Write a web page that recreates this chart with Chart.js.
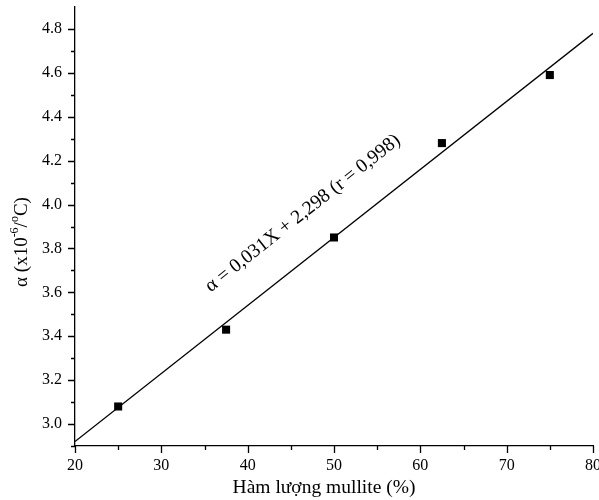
<!DOCTYPE html>
<html>
<head>
<meta charset="utf-8">
<script src="https://cdn.jsdelivr.net/npm/chart.js@4/dist/chart.umd.min.js"></script>
<style>
  html, body { margin: 0; padding: 0; background: #fff; }
  #wrap { width: 599px; height: 500px; }
</style>
</head>
<body>
<div id="wrap"><canvas id="myChart" width="599" height="500"></canvas></div>
<script>
// Số liệu
const mulliteX = [25, 37.5, 50, 62.5, 75];
const alphaY = [3.08, 3.43, 3.85, 4.28, 4.59];
const fitX = [20, 80];
const fitY = [2.92, 4.78];
const xTicks = [20, 30, 40, 50, 60, 70, 80];
const yTicks = [3.0, 3.2, 3.4, 3.6, 3.8, 4.0, 4.2, 4.4, 4.6, 4.8];
const equationText = 'α = 0,031X + 2,298 (r = 0,998)';
const xTitle = 'Hàm lượng mullite (%)';

const serif = '"Liberation Serif", "Times New Roman", serif';

// Vẽ vạch chia chính / phụ hướng ra ngoài, tiêu đề trục và phương trình
const axisPlugin = {
    id: 'axisTicks',
    afterDraw(chart) {
        const c = chart.ctx;
        const xs = chart.scales.x, ys = chart.scales.y;
        const area = chart.chartArea;
        c.save();
        c.strokeStyle = '#000';
        c.lineWidth = 1.3;
        c.beginPath();
        for (let v = xs.min; v <= xs.max + 1e-9; v += 5) {
            const px = Math.round(xs.getPixelForValue(v)) + 0.5;
            const len = (Math.round(v) % 10 === 0) ? 7 : 4;
            c.moveTo(px, area.bottom);
            c.lineTo(px, area.bottom + len);
        }
        for (let i = 0; i <= 19; i++) {
            const v = 2.9 + i * 0.1;
            if (v > ys.max + 1e-9) break;
            const py = Math.round(ys.getPixelForValue(v)) + 0.5;
            const major = Math.abs(Math.round(v * 10) % 2) === 0;
            const len = major ? 7 : 4;
            c.moveTo(area.left, py);
            c.lineTo(area.left - len, py);
        }
        c.stroke();
        c.fillStyle = '#000';

        // tiêu đề trục x
        c.font = '19.5px ' + serif;
        c.textAlign = 'center';
        c.textBaseline = 'middle';
        c.fillText(xTitle, 324, 488);

        // tiêu đề trục y với chỉ số trên
        c.save();
        c.translate(22, 242);
        c.rotate(-Math.PI / 2);
        const parts = [
            ['α (x10', 19, 0],
            ['-6', 12, -7],
            ['/', 19, 0],
            ['o', 12, -7],
            ['C)', 19, 0]
        ];
        let total = 0;
        parts.forEach(p => { c.font = p[1] + 'px ' + serif; total += c.measureText(p[0]).width; });
        let x = -total / 2;
        c.textAlign = 'left';
        parts.forEach(p => {
            c.font = p[1] + 'px ' + serif;
            c.fillText(p[0], x, p[2]);
            x += c.measureText(p[0]).width;
        });
        c.restore();

        // phương trình hồi quy, xoay theo đường thẳng
        const x0 = xs.getPixelForValue(fitX[0]), y0 = ys.getPixelForValue(fitY[0]);
        const x1 = xs.getPixelForValue(fitX[1]), y1 = ys.getPixelForValue(fitY[1]);
        const ang = Math.atan2(y1 - y0, x1 - x0);
        const cx = xs.getPixelForValue(46.4), cy = ys.getPixelForValue(3.96);
        c.translate(cx, cy);
        c.rotate(ang);
        c.font = '19.5px ' + serif;
        c.textAlign = 'center';
        c.fillText(equationText, 0, 0);
        c.restore();
    }
};

const ctx = document.getElementById('myChart').getContext('2d');

const myChart = new Chart(ctx, {
    type: 'scatter',
    data: {
        datasets: [
            {
                label: 'fit',
                type: 'line',
                data: fitX.map((x, i) => ({ x: x, y: fitY[i] })),
                borderColor: '#000',
                borderWidth: 1.3,
                pointRadius: 0,
                fill: false,
                order: 2
            },
            {
                label: 'data',
                data: mulliteX.map((x, i) => ({ x: x, y: alphaY[i] })),
                pointStyle: 'rect',
                pointRadius: 5.7,
                backgroundColor: '#000',
                borderColor: '#000',
                borderWidth: 0,
                order: 1
            }
        ]
    },
    options: {
        responsive: false,
        animation: false,
        layout: { padding: { top: 7, right: 6, left: 0, bottom: 0 } },
        plugins: {
            legend: { display: false },
            tooltip: { enabled: false }
        },
        scales: {
            x: {
                type: 'linear',
                min: 20,
                max: 80,
                afterBuildTicks: (s) => { s.ticks = xTicks.map(v => ({ value: v })); },
                afterFit: (s) => { s.height = 54; s.paddingLeft = 0; s.paddingRight = 0; },
                grid: { display: false },
                border: { display: true, color: '#000', width: 1.3 },
                ticks: {
                    color: '#000',
                    padding: 2,
                    maxRotation: 0,
                    font: { family: serif, size: 16 }
                },
                title: { display: false }
            },
            y: {
                type: 'linear',
                min: 2.9,
                max: 4.9,
                afterBuildTicks: (s) => { s.ticks = yTicks.map(v => ({ value: v })); },
                afterFit: (s) => { s.width = 75; s.paddingTop = 0; s.paddingBottom = 0; },
                grid: { display: false },
                border: { display: true, color: '#000', width: 1.3 },
                ticks: {
                    color: '#000',
                    padding: 5,
                    font: { family: serif, size: 16 },
                    callback: (v) => v.toFixed(1)
                },
                title: { display: false }
            }
        }
    },
    plugins: [axisPlugin]
});
</script>
</body>
</html>
